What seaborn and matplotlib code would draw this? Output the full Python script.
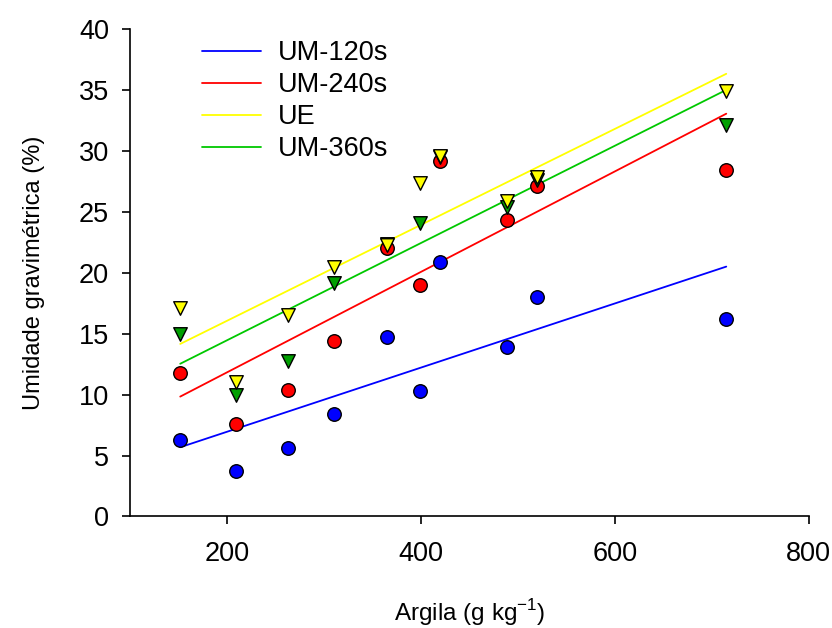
import numpy as np
import pandas as pd
import matplotlib
matplotlib.use("Agg")
import matplotlib.pyplot as plt
import seaborn as sns

# teor de argila (g/kg)
argila = [152, 209, 263, 311, 365, 399, 420, 489, 520, 715]

um_120 = [6.3, 3.7, 5.6, 8.4, 14.7, 10.3, 20.9, 13.9, 18.0, 16.2]
um_240 = [11.8, 7.6, 10.4, 14.4, 22.0, 19.0, 29.2, 24.3, 27.1, 28.4]
um_360 = [15.0, 10.0, 12.8, 19.2, 22.4, 24.1, 29.5, 25.4, 27.6, 32.1]
ue = [17.1, 11.0, 16.5, 20.5, 22.3, 27.4, 29.6, 25.9, 27.9, 34.9]

x_ticks = [200, 400, 600, 800]
y_ticks = [0, 5, 10, 15, 20, 25, 30, 35, 40]

df = pd.DataFrame({"argila": argila, "UM-120s": um_120, "UM-240s": um_240,
                   "UM-360s": um_360, "UE": ue})

sns.set_style("ticks")
plt.rcParams['font.family'] = ['Liberation Sans', 'DejaVu Sans']
plt.rcParams['mathtext.fontset'] = 'custom'
plt.rcParams['mathtext.rm'] = 'Liberation Sans'
plt.rcParams['text.color'] = 'black'
plt.rcParams['axes.labelcolor'] = 'black'
plt.rcParams['xtick.color'] = 'black'
plt.rcParams['ytick.color'] = 'black'

fig = plt.figure(figsize=(8.32, 6.28), dpi=100)
ax = fig.add_axes([0.156, 0.1776, 0.816, 0.776])

# linhas de regressao (ordem da legenda)
series = [("UM-120s", "#0000ff"), ("UM-240s", "#ff0000"),
          ("UE", "#ffff00"), ("UM-360s", "#00c800")]
for name, cor in series:
    sns.regplot(data=df, x="argila", y=name, ax=ax, scatter=False, ci=None,
                truncate=True, color=cor, label=name,
                line_kws={"lw": 1.3, "zorder": 2})

# pontos
pontos = [("UM-120s", "#0000ff", "o"), ("UM-240s", "#ff0000", "o"),
          ("UM-360s", "#00a000", "v"), ("UE", "#ffff00", "v")]
for i, (name, cor, mk) in enumerate(pontos):
    sns.scatterplot(data=df, x="argila", y=name, ax=ax, color=cor, marker=mk,
                    s=95, edgecolor="black", linewidth=1.0, zorder=3 + i,
                    legend=False)

ax.set_xlim(100, 800)
ax.set_ylim(0, 40)
ax.set_xticks(x_ticks)
ax.set_yticks(y_ticks)
ax.tick_params(axis="both", labelsize=19.5, length=6, width=1.2, color="black",
               labelcolor="black")
ax.tick_params(axis="x", pad=12)
ax.tick_params(axis="y", pad=9)
for s in ["left", "bottom"]:
    ax.spines[s].set_linewidth(1.2)
    ax.spines[s].set_color("black")
sns.despine(ax=ax)

ax.set_xlabel("Argila (g kg$^{\\mathrm{-1}}$)", fontsize=17.5, labelpad=21)
ax.set_ylabel("Umidade gravimétrica (%)", fontsize=17, labelpad=24)

handles, labels = ax.get_legend_handles_labels()
ax.legend(handles[:4], labels[:4], loc="upper left",
          bbox_to_anchor=(0.07, 1.027), frameon=False,
          fontsize=19.5, handlelength=2.2, handletextpad=0.6,
          labelspacing=0.22)

fig.savefig("out.png", dpi=100)
